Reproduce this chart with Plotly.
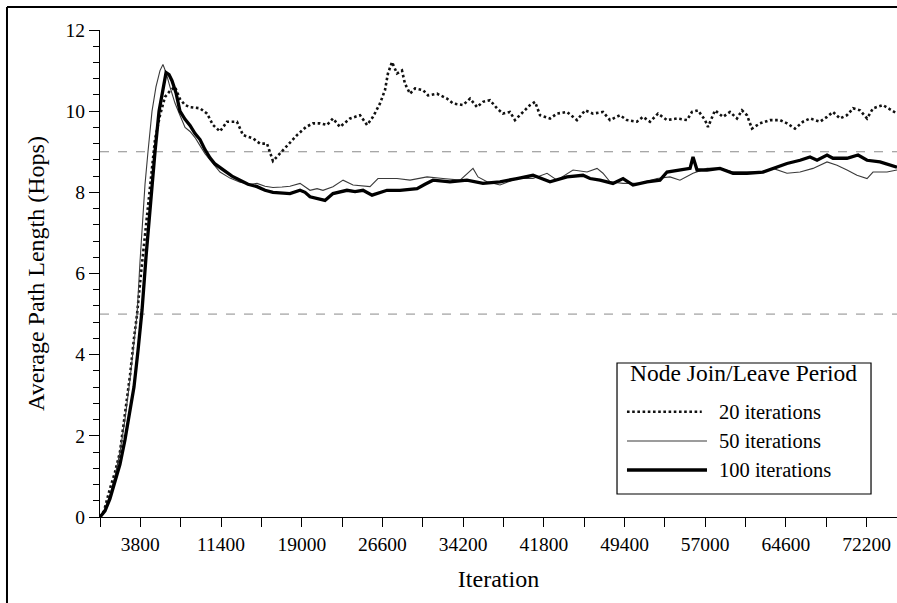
import plotly.graph_objects as go

# ---------------- data ----------------
x_20 = [0, 380, 940, 1410, 1880, 2350, 2830, 3200, 3490, 3860,
        4240, 4710, 5180, 5650, 6120, 6590, 7060, 7530, 8010, 8480,
        9420, 10080, 10640, 11300, 11960, 12900, 13470, 14410, 15070, 15730,
        16290, 17240, 18550, 19400, 20060, 20720, 21380, 21940, 22600, 23550,
        24490, 25150, 25710, 26370, 26840, 27120, 27500, 27970, 28440, 28720,
        29200, 29670, 30420, 30890, 31740, 32680, 33250, 34190, 34850, 35510,
        36070, 36730, 37390, 37950, 38610, 39080, 39840, 40500, 40970, 41440,
        42380, 43040, 43980, 44920, 45680, 46430, 47370, 48030, 48970, 49630,
        50570, 51140, 51800, 52550, 53400, 54340, 55280, 55750, 56320, 56980,
        57260, 57920, 58670, 59330, 59990, 60460, 60930, 61400, 62160, 63100,
        64040, 64700, 65450, 66210, 66870, 67810, 68470, 69030, 69690, 70350,
        70920, 71580, 72240, 72800, 73740, 74590, 75060]
y_20 = [0, 0.15, 0.7, 1.1, 1.6, 2.5, 3.5, 4.4, 5.0, 6.0,
        7.0, 8.2, 9.3, 9.9, 10.35, 10.5, 10.6, 10.3, 10.15, 10.1,
        10.07, 9.94, 9.66, 9.5, 9.74, 9.74, 9.41, 9.33, 9.2, 9.2,
        8.77, 9.04, 9.41, 9.61, 9.7, 9.7, 9.66, 9.82, 9.61, 9.82,
        9.9, 9.66, 9.86, 10.19, 10.52, 10.93, 11.21, 10.93, 11.0, 10.68,
        10.43, 10.56, 10.52, 10.39, 10.43, 10.31, 10.19, 10.15, 10.31, 10.1,
        10.23, 10.27, 10.07, 9.94, 9.98, 9.78, 9.98, 10.15, 10.23, 9.9,
        9.82, 9.94, 9.98, 9.78, 10.02, 9.94, 9.98, 9.78, 9.9, 9.78,
        9.74, 9.86, 9.74, 9.94, 9.78, 9.82, 9.78, 9.98, 10.02, 9.78,
        9.61, 10.02, 9.86, 9.98, 9.82, 10.02, 9.9, 9.57, 9.7, 9.78,
        9.78, 9.7, 9.57, 9.74, 9.82, 9.74, 9.86, 9.98, 9.82, 9.9,
        10.07, 10.02, 9.82, 10.07, 10.15, 10.02, 9.94]

x_50 = [0, 470, 940, 1410, 1880, 2350, 2830, 3200, 3490, 3770,
        3960, 4240, 4520, 4900, 5270, 5650, 5930, 6220, 6590, 7060,
        7530, 8010, 8480, 8950, 9420, 9890, 10360, 10830, 11300, 12240,
        13190, 14130, 14790, 15540, 16290, 17140, 17890, 18840, 19780, 20440,
        21000, 21940, 22890, 23830, 25430, 26180, 27970, 29200, 30800, 32300,
        33910, 35130, 35600, 36450, 37670, 39270, 40780, 42100, 43040, 44550,
        45870, 46810, 47370, 48030, 49260, 50860, 52460, 53680, 54620, 55850,
        57170, 58390, 59620, 60930, 62160, 63380, 64700, 65930, 67150, 68470,
        69410, 70350, 71290, 72240, 72800, 74120, 75060]
y_50 = [0, 0.2, 0.55, 1.0, 1.6, 2.4, 3.4, 4.4, 5.0, 6.3,
        7.2, 8.2, 9.0, 10.0, 10.6, 11.0, 11.15, 10.95, 10.6, 10.2,
        9.9, 9.6, 9.5, 9.35, 9.15, 8.95, 8.8, 8.65, 8.5, 8.35,
        8.25, 8.2, 8.22, 8.15, 8.12, 8.13, 8.15, 8.22, 8.05, 8.09,
        8.05, 8.14, 8.3, 8.18, 8.14, 8.34, 8.34, 8.3, 8.38, 8.34,
        8.3, 8.59, 8.38, 8.26, 8.18, 8.34, 8.34, 8.47, 8.3, 8.55,
        8.5, 8.59, 8.47, 8.26, 8.22, 8.22, 8.34, 8.38, 8.3, 8.47,
        8.59, 8.59, 8.5, 8.5, 8.5, 8.59, 8.47, 8.5, 8.59, 8.75,
        8.67, 8.55, 8.42, 8.34, 8.5, 8.5, 8.55]

x_100 = [0, 470, 940, 1410, 1880, 2350, 2830, 3200, 3580, 3960,
         4330, 4710, 5180, 5560, 5930, 6220, 6500, 6780, 7160, 7530,
         8010, 8480, 8950, 9420, 9890, 10360, 10830, 11580, 12430, 13190,
         13940, 14790, 15540, 16290, 17140, 17890, 18840, 19310, 19780, 20530,
         21190, 21940, 22600, 23260, 24020, 24770, 25620, 26370, 27030, 28250,
         29860, 30610, 31360, 32960, 34560, 36070, 37670, 39270, 40780, 42380,
         43980, 45490, 46150, 47090, 48310, 49260, 50200, 51520, 52740, 53400,
         54620, 55570, 55850, 56230, 57170, 58390, 59620, 60930, 62440, 63760,
         64700, 65930, 66870, 67530, 68470, 69030, 70350, 71390, 72240, 73460,
         74400, 75060]
y_100 = [0, 0.15, 0.45, 0.85, 1.3, 1.9, 2.6, 3.2, 4.1, 5.1,
         6.4, 7.6, 9.0, 10.0, 10.6, 10.95, 10.9, 10.75, 10.45, 10.0,
         9.8, 9.65, 9.45, 9.3, 9.05, 8.85, 8.7, 8.55, 8.4, 8.3,
         8.2, 8.14, 8.05, 8.0, 7.98, 7.97, 8.05, 8.0, 7.89, 7.85,
         7.8, 7.97, 8.01, 8.05, 8.02, 8.05, 7.93, 8.0, 8.05, 8.05,
         8.09, 8.2, 8.3, 8.26, 8.3, 8.22, 8.26, 8.34, 8.42, 8.26,
         8.38, 8.42, 8.34, 8.3, 8.22, 8.34, 8.18, 8.26, 8.3, 8.5,
         8.55, 8.59, 8.87, 8.55, 8.55, 8.59, 8.47, 8.47, 8.5, 8.62,
         8.71, 8.79, 8.87, 8.79, 8.92, 8.84, 8.84, 8.92, 8.79, 8.75,
         8.67, 8.62]

series_names = ["20 iterations", "50 iterations", "100 iterations"]
legend_title = "Node Join/Leave Period"
x_tick_labels = ["3800", "11400", "19000", "26600", "34200",
                 "41800", "49400", "57000", "64600", "72200"]
ref_levels = [5, 9]

FONT = "Liberation Serif, Times New Roman, serif"

fig = go.Figure()
styles = [dict(color="#111111", width=2.6, dash="2.6px,2.6px"),
          dict(color="#3a3a3a", width=1.1),
          dict(color="#000000", width=3.3)]
for xs, ys, name, st in zip([x_20, x_50, x_100], [y_20, y_50, y_100], series_names, styles):
    fig.add_trace(go.Scatter(x=xs, y=ys, mode="lines", name=name, line=st,
                             showlegend=False, hoverinfo="skip"))

shapes = []
# horizontal dashed reference lines
for lv in ref_levels:
    shapes.append(dict(type="line", xref="paper", yref="y", x0=0, x1=1, y0=lv, y1=lv,
                       line=dict(color="#8a8a8a", width=1, dash="dash"), layer="below"))
# outer frame (left & top)
shapes.append(dict(type="line", xref="paper", yref="paper", x0=-0.1167, x1=-0.1167,
                   y0=-0.2, y1=1.0472, line=dict(color="black", width=2)))
shapes.append(dict(type="line", xref="paper", yref="paper", x0=-0.1167, x1=1.01,
                   y0=1.0472, y1=1.0472, line=dict(color="black", width=2)))
# legend box
shapes.append(dict(type="rect", xref="paper", yref="paper", x0=0.6487, x1=0.9674,
                   y0=0.0472, y1=0.3162, line=dict(color="black", width=1.2),
                   fillcolor="white"))
leg_y = [0.2162, 0.1561, 0.0965]
leg_x1 = [0.755, 0.7616, 0.7616]
annotations = [dict(text=legend_title, xref="paper", yref="paper", x=0.8068, y=0.2957,
                    showarrow=False, xanchor="center", yanchor="middle",
                    font=dict(family=FONT, size=23.5, color="black"))]
for i, (name, st) in enumerate(zip(series_names, styles)):
    shapes.append(dict(type="line", xref="paper", yref="paper", x0=0.6612, x1=leg_x1[i],
                       y0=leg_y[i], y1=leg_y[i], line=st))
    annotations.append(dict(text=name, xref="paper", yref="paper", x=0.7742, y=leg_y[i],
                            showarrow=False, xanchor="left", yanchor="middle",
                            font=dict(family=FONT, size=20.5, color="black")))

tick_step = 3800
fig.update_layout(
    width=897, height=603,
    margin=dict(l=100, r=0, t=30, b=86),
    paper_bgcolor="white", plot_bgcolor="white",
    font=dict(family=FONT, size=19, color="black"),
    shapes=shapes, annotations=annotations,
    xaxis=dict(range=[0, 75060], showgrid=False, zeroline=False,
               showline=True, linecolor="black", linewidth=1.2,
               tickmode="array",
               tickvals=[tick_step * (2 * i + 1) for i in range(len(x_tick_labels))],
               ticktext=x_tick_labels,
               ticks="outside", ticklen=9, tickcolor="black", tickwidth=1,
               minor=dict(tick0=0, dtick=tick_step, ticks="outside", ticklen=9,
                          tickcolor="black", tickwidth=1),
               tickfont=dict(family=FONT, size=19.5),
               title=dict(text="Iteration", font=dict(family=FONT, size=24), standoff=16)),
    yaxis=dict(range=[0, 12], showgrid=False, zeroline=False,
               showline=True, linecolor="black", linewidth=1.2,
               tickmode="linear", tick0=0, dtick=2,
               ticks="outside", ticklen=10, tickcolor="black", tickwidth=1,
               minor=dict(tick0=0, dtick=0.4, ticks="outside", ticklen=6,
                          tickcolor="black", tickwidth=1),
               tickfont=dict(family=FONT, size=19.5),
               title=dict(text="Average Path Length (Hops)", font=dict(family=FONT, size=24),
                          standoff=14)),
)

# remove the page's default body margin so the 897x603 figure fills the window exactly
fig.write_html("out.html",
               config={"displayModeBar": False, "staticPlot": True},
               post_script="document.body.style.margin='0';"
                           "document.body.style.overflow='hidden';")
